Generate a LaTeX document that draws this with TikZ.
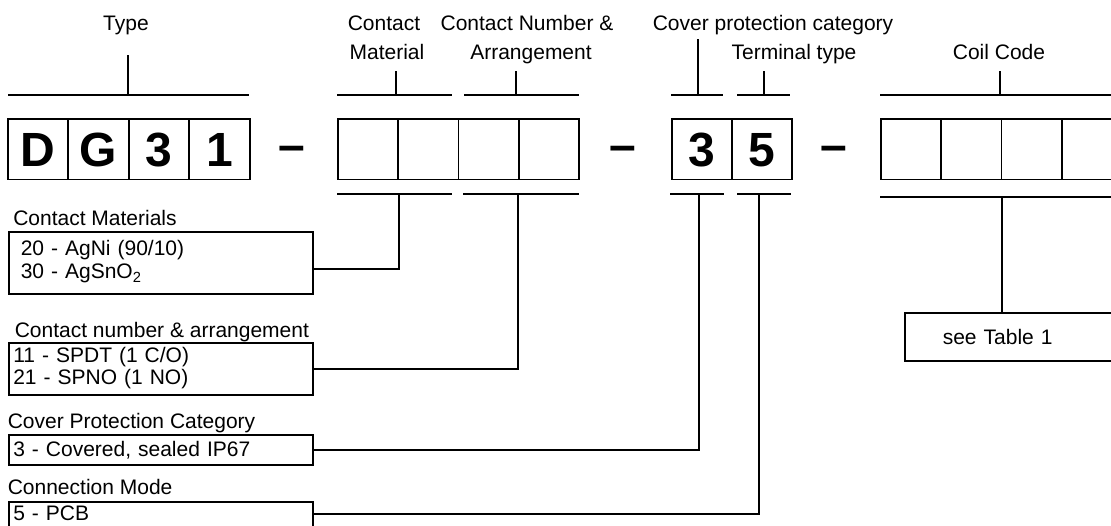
\documentclass[tikz,border=0pt]{standalone}
\usepackage{fontspec}
\setmainfont{Liberation Sans}
\usetikzlibrary{positioning}
\tikzset{
    lbl/.style={font=\fontsize{21}{23}\selectfont, inner sep=0pt, anchor=base},
    cell/.style={draw, anchor=north west, inner sep=0pt, minimum width=60.4pt,
        minimum height=60.5pt, text height=34.4pt, text depth=0pt,
        font=\bfseries\fontsize{48}{48}\selectfont},
    sep/.style={inner sep=0pt, text height=26pt, text depth=0pt,
        font=\bfseries\fontsize{48}{48}\selectfont},
    legend/.style={draw, anchor=north west, inner ysep=0pt, align=left,
        font=\fontsize{21}{23}\selectfont},
}
\begin{document}
\begin{tikzpicture}[x=1pt, y=-1pt, line width=1.6pt]
\useasboundingbox (0,0) rectangle (1111,525);
% code fields
\foreach \ch [count=\i] in {D,G,3,1} {
\node[cell] (dg\i) at ({7+60.5*(\i-1)},118) {\ch};
}
\foreach \i in {1,...,4} {
\node[cell] (cm\i) at ({337+60.25*(\i-1)},118) {};
}
\node[cell, minimum width=60pt] (cp1) at (671,118) {3};
\node[cell, minimum width=60pt] (cp2) at (731,118) {5};
\foreach \i in {1,...,4} {
\node[cell] (cc\i) at ({880+60.3*(\i-1)},118) {};
}
\node[sep] (dash1) at (292,148) {\textendash};
\node[sep] (dash2) at (623,148) {\textendash};
\node[sep] (dash3) at (834,148) {\textendash};

% labels above
\node[lbl] (typelbl) at (126,30) {Type};
\node[lbl] (matlbl1) at (384,30) {Contact};
\node[lbl] (matlbl2) at (387,59) {Material};
\node[lbl] (arrlbl1) at (527,30) {Contact Number \&};
\node[lbl] (arrlbl2) at (531,59) {Arrangement};
\node[lbl] (covlbl) at (773,30) {Cover protection category};
\node[lbl] (termlbl) at (794,59) {Terminal type};
\node[lbl] (coillbl) at (999,59) {Coil Code};

% upper brackets
\draw (8,95) -- (249,95);
\draw (337,95) -- (452,95);
\draw (464,95) -- (579,95);
\draw (671,95) -- (723,95);
\draw (737,95) -- (790,95);
\draw (880,95) -- (1115,95);
\foreach \nm/\x/\y in {type/128/55, mat/396/71, arr/516/71, cov/698/39, term/764/71, coil/1000/71} {
\coordinate (\nm top) at (\x,\y);
\coordinate (\nm bar) at (\x,95);
\draw (\nm top) -- (\nm bar);
}

% lower brackets
\draw (337,194) -- (452,194);
\draw (463,194) -- (579,194);
\draw (670,194) -- (724,194);
\draw (737,194) -- (791,194);
\draw (880,197) -- (1115,197);
\coordinate (matlow) at (399,194);
\coordinate (arrlow) at (518,194);
\coordinate (covlow) at (699,194);
\coordinate (termlow) at (759,194);
\coordinate (coillow) at (1002,197);

% legend
\node[lbl, anchor=base west] (mathead) at (12.5,225.5) {Contact Materials};
\node[legend, text width=280pt, inner xsep=12pt, minimum height=62pt] (matbox) at (8,231)
    {\begin{tabular}{@{}l@{}}20 - AgNi (90/10)\\30 - AgSnO\textsubscript{2}\end{tabular}};
\node[lbl, anchor=base west] (arrhead) at (14,337.5) {Contact number \& arrangement};
\node[legend, text width=295pt, inner xsep=4.5pt, minimum height=52pt,
    font=\fontsize{21}{20}\selectfont] (arrbox) at (8,342)
    {\begin{tabular}{@{}l@{}}11 - SPDT (1 C/O)\\21 - SPNO (1 NO)\end{tabular}};
\node[lbl, anchor=base west] (covhead) at (7,428.5) {Cover Protection Category};
\node[legend, text width=295pt, inner xsep=4.5pt, minimum height=30pt] (covbox) at (8,434)
    {3 - Covered, sealed IP67};
\node[lbl, anchor=base west] (conhead) at (7,494.5) {Connection Mode};
\node[legend, text width=295pt, inner xsep=4.5pt, minimum height=30pt, text depth=8pt] (conbox) at (8,501)
    {5 - PCB};
\node[legend, text width=184pt, inner xsep=38pt, minimum height=48pt] (tabbox) at (904,312)
    {see Table 1};

% connectors
\draw (matlow) |- ([yshift=-6pt]matbox.east);
\draw (arrlow) |- (arrbox.east);
\draw (covlow) |- (covbox.east);
\draw (termlow) |- ([yshift=3pt]conbox.east);
\draw (coillow) -- (coillow |- tabbox.north);
\end{tikzpicture}
\end{document}
